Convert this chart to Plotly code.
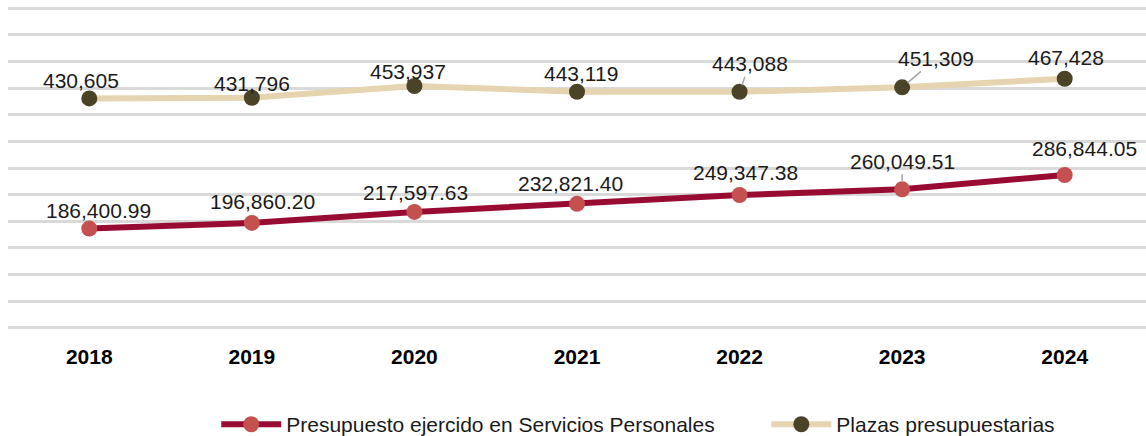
import plotly.graph_objects as go

years = ["2018", "2019", "2020", "2021", "2022", "2023", "2024"]
presupuesto = [186400.99, 196860.20, 217597.63, 232821.40, 249347.38, 260049.51, 286844.05]
plazas = [430605, 431796, 453937, 443119, 443088, 451309, 467428]
presupuesto_labels = ["186,400.99", "196,860.20", "217,597.63", "232,821.40",
                      "249,347.38", "260,049.51", "286,844.05"]
plazas_labels = ["430,605", "431,796", "453,937", "443,119", "443,088", "451,309", "467,428"]
series_names = ["Presupuesto ejercido en Servicios Personales", "Plazas presupuestarias"]

# label placement (pixel offsets of text centre from point; leader flag)
pres_off = [(9, -18, False), (11, -21, False), (1, -19, False), (-7, -20, False),
            (6, -22, False), (0, -28, True), (20, -27, False)]
plaz_off = [(-8, -18, False), (0, -14, False), (-6, -14, False), (4, -18, False),
            (10, -28, True), (34, -29, True), (1, -21, False)]

FONT = "Liberation Sans, Arial, sans-serif"
NBSP_PAD = "\u00a0" * 8

fig = go.Figure()
fig.add_trace(go.Scatter(
    x=years, y=presupuesto, mode="lines+markers",
    name=series_names[0] + NBSP_PAD,
    line=dict(color="#980c33", width=6),
    marker=dict(color="#c4514f", size=16, line=dict(width=0)),
))
fig.add_trace(go.Scatter(
    x=years, y=plazas, mode="lines+markers",
    name=series_names[1],
    line=dict(color="#e6d3af", width=6),
    marker=dict(color="#4a4327", size=16, line=dict(width=0)),
))

annotations = []
for series, labels, offs in ((presupuesto, presupuesto_labels, pres_off),
                             (plazas, plazas_labels, plaz_off)):
    for i, (yv, lab, (dx, dy, leader)) in enumerate(zip(series, labels, offs)):
        if leader:
            annotations.append(dict(
                x=i, y=yv, text=lab, showarrow=True, ax=dx, ay=dy,
                arrowhead=0, arrowwidth=1.5, arrowcolor="#a6a6a6", standoff=7,
                font=dict(family=FONT, size=21, color="#1a1a1a")))
        else:
            annotations.append(dict(
                x=i, y=yv, text=lab, showarrow=False, xshift=dx, yshift=-dy,
                font=dict(family=FONT, size=21, color="#1a1a1a")))

fig.update_layout(
    width=1146, height=436,
    margin=dict(l=8, r=0, t=6, b=106, autoexpand=False),
    paper_bgcolor="white", plot_bgcolor="white",
    showlegend=True,
    legend=dict(orientation="h", x=0.183, xanchor="left", y=-0.292, yanchor="middle",
                font=dict(family=FONT, size=21, color="#1a1a1a"),
                itemwidth=60, bgcolor="rgba(0,0,0,0)"),
    annotations=annotations,
    xaxis=dict(type="category", range=[-0.5, 6.5], showgrid=False, showline=False,
               zeroline=False, ticks="", ticklabelstandoff=12,
               tickfont=dict(family=FONT, size=21, color="#000000", weight="bold")),
    yaxis=dict(range=[-4000, 604000], tick0=0, dtick=50000, showticklabels=False,
               showgrid=True, gridcolor="#d9d9d9", gridwidth=3,
               zeroline=False, showline=False, ticks=""),
)

fig.write_html("out.html", config={"displayModeBar": False},
               post_script="document.body.style.margin='0';")
